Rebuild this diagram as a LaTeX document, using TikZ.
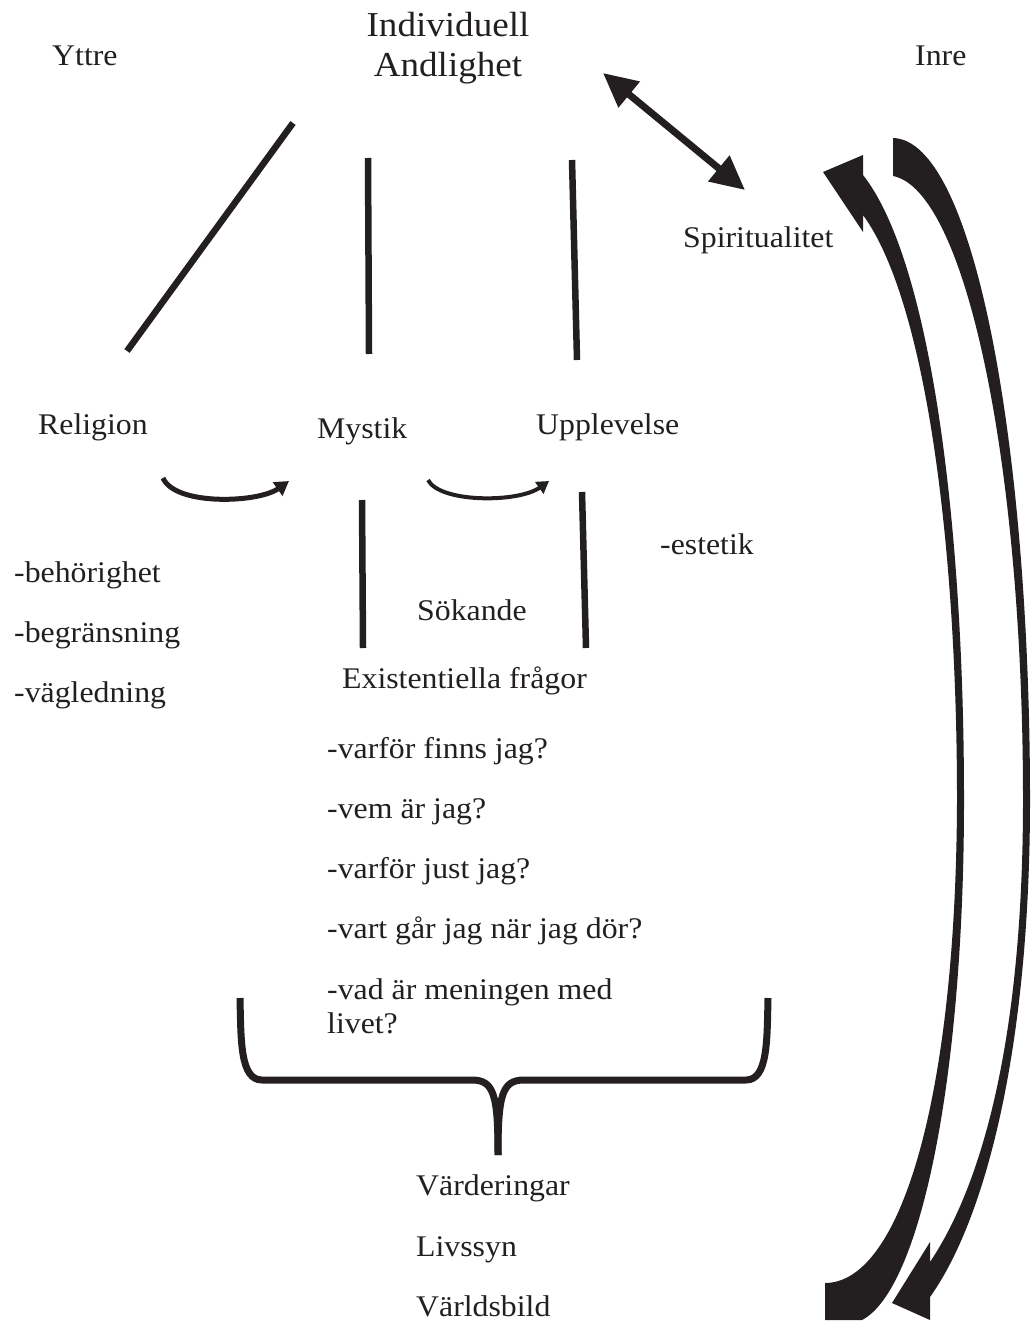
\documentclass[tikz,border=0pt]{standalone}
\usepackage{fontspec}
\setmainfont[FakeStretch=1.06]{Liberation Serif}
\usetikzlibrary{arrows.meta}
\definecolor{ink}{HTML}{231F20}
\tikzset{
  lbl/.style={anchor=base west,inner sep=0pt,text=ink,font=\fontsize{30}{36}\selectfont},
  title/.style={lbl,anchor=base,font=\fontsize{35}{40}\selectfont},
  bar/.style={draw=ink,line width=6.5pt},
}
\begin{document}
\begin{tikzpicture}[x=1pt,y=-1pt,>={Triangle[length=34pt,width=32pt]}]
\useasboundingbox (0,0) rectangle (1031,1321);

\node[title] (indiv) at (448,37) {Individuell};
\node[title] (andl) at (448,77) {Andlighet};
\node[lbl] (yttre) at (52,66) {Yttre};
\node[lbl] (inre) at (915,66) {Inre};
\node[lbl] (spirit) at (683,248) {Spiritualitet};
\node[lbl] (relig) at (38,434) {Religion};
\node[lbl] (mystik) at (317,438) {Mystik};
\node[lbl] (uppl) at (536,434) {Upplevelse};
\node[lbl] (estet) at (660,554) {-estetik};
\node[lbl] (behor) at (14,582) {-behörighet};
\node[lbl] (begr) at (14,642) {-begränsning};
\node[lbl] (vagl) at (14,702) {-vägledning};
\node[lbl] (sok) at (417,620) {Sökande};
\node[lbl] (exist) at (342,688) {Existentiella frågor};
\node[lbl] (q1) at (327,758) {-varför finns jag?};
\node[lbl] (q2) at (327,818) {-vem är jag?};
\node[lbl] (q3) at (327,878) {-varför just jag?};
\node[lbl] (q4) at (327,938) {-vart går jag när jag dör?};
\node[lbl] (q5) at (327,999) {-vad är meningen med};
\node[lbl] (q5b) at (327,1033) {livet?};
\node[lbl] (vard) at (416,1195) {Värderingar};
\node[lbl] (livs) at (416,1256) {Livssyn};
\node[lbl] (varld) at (416,1316) {Världsbild};

\coordinate (relA) at (293,123);  \coordinate (relB) at (127,351);
\coordinate (mysA) at (368,158);  \coordinate (mysB) at (369,354);
\coordinate (uppA) at (572,160);  \coordinate (uppB) at (577,360);
\coordinate (spA) at (603,73);    \coordinate (spB) at (745,190);
\coordinate (sokA) at (362,500);  \coordinate (sokB) at (363,648);
\coordinate (sokC) at (582,492);  \coordinate (sokD) at (586,648);
\coordinate (brL) at (240,998);   \coordinate (brR) at (768,998);
\coordinate (brM) at (498,1155);

\draw[bar] (relA) -- (relB);
\draw[bar] (mysA) -- (mysB);
\draw[bar] (uppA) -- (uppB);
\draw[bar] (sokA) -- (sokB);
\draw[bar] (sokC) -- (sokD);
\draw[ink,line width=7pt,<->] (spA) -- (spB);

\draw[ink,line width=5pt,-{Triangle[length=14pt,width=16pt]}]
  (163,478) .. controls (175,506) and (258,503) .. (289,481);
\draw[ink,line width=4pt,-{Triangle[length=12pt,width=14pt]}]
  (428,480) .. controls (440,503) and (518,503) .. (549,481);

\draw[bar,line width=7pt,line join=round]
  (brL) .. controls (241,1040) and (240,1080) .. (262,1080) -- (472,1080)
  .. controls (494,1080) and (498,1095) .. (brM);
\draw[bar,line width=7pt,line join=round]
  (brR) .. controls (767,1040) and (768,1080) .. (746,1080) -- (524,1080)
  .. controls (502,1080) and (498,1095) .. (brM);

% inre -> yttre (upwards) and back (downwards)
\fill[ink] (823,172) -- (863,155) -- (863,175)
  .. controls (930,260) and (964,520) .. (964,800)
  .. controls (964,1080) and (920,1290) .. (862,1320)
  -- (825,1320) -- (825,1283)
  .. controls (900,1283) and (956,1100) .. (957,800)
  .. controls (957,540) and (925,300) .. (863,215)
  -- (863,232) -- cycle;
\fill[ink] (893,138)
  .. controls (975,140) and (1030,450) .. (1030,800)
  .. controls (1030,1050) and (985,1220) .. (930,1297)
  -- (930,1320) -- (892,1303) -- (930,1242) -- (930,1262)
  .. controls (985,1180) and (1023,1030) .. (1023,800)
  .. controls (1023,460) and (965,190) .. (893,176)
  -- cycle;
\end{tikzpicture}
\end{document}
